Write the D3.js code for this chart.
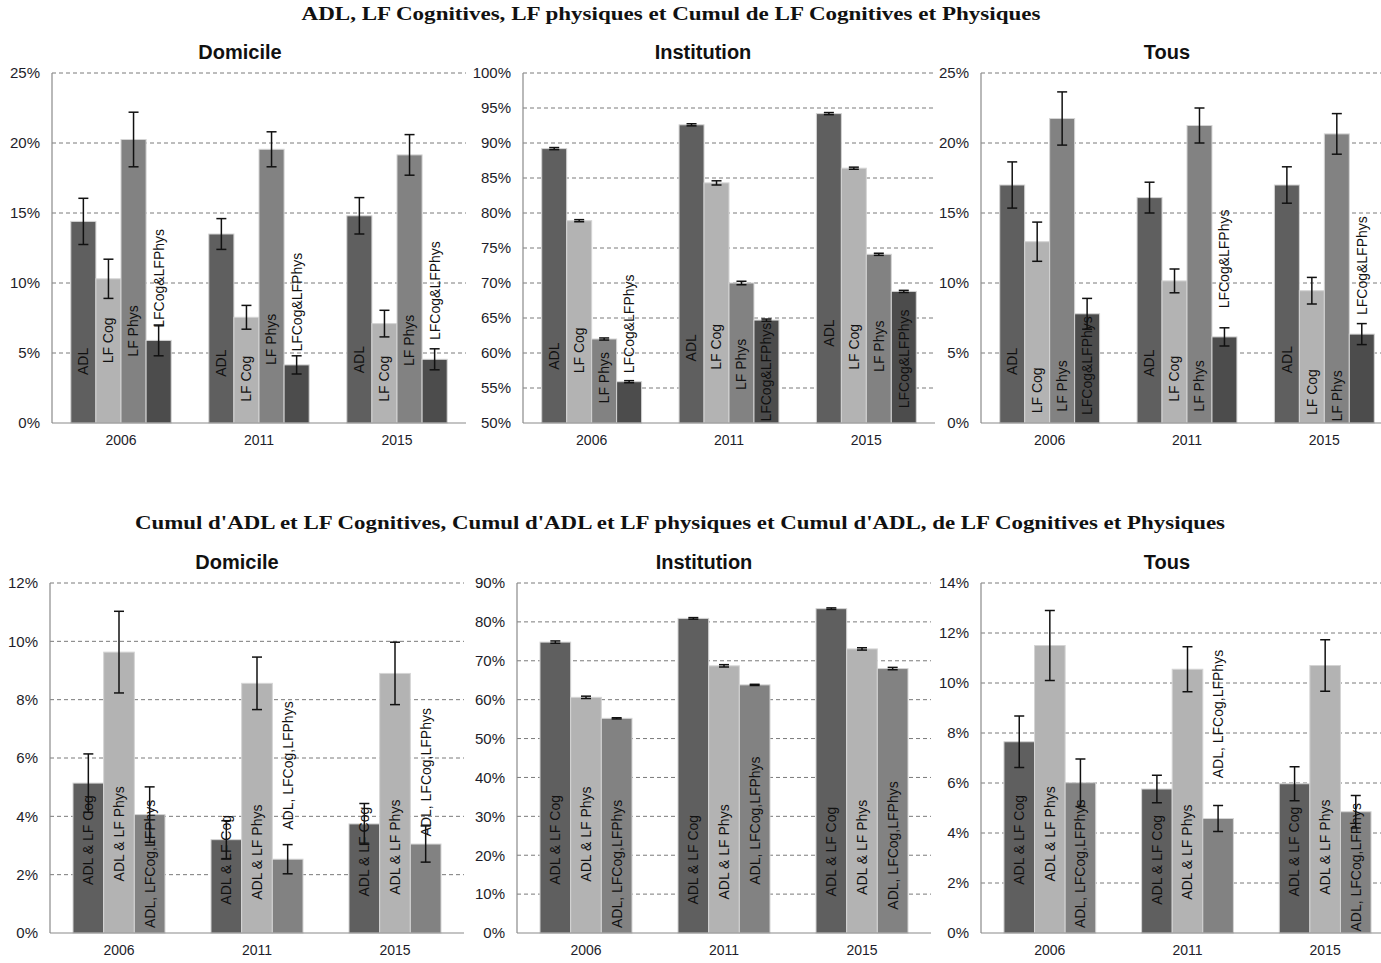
<!DOCTYPE html>
<html>
<head>
<meta charset="utf-8">
<script src="https://cdn.jsdelivr.net/npm/d3@7"></script>
<style>
  html, body { margin: 0; padding: 0; background: #fff; }
  svg { display: block; }
</style>
</head>
<body>
<svg id="chart" width="1381" height="963"></svg>
<script>
// ---------------- DATA ----------------
const years = ["2006", "2011", "2015"];
const seriesTop = ["ADL", "LF Cog", "LF Phys", "LFCog&LFPhys"];
const seriesBottom = ["ADL & LF Cog", "ADL & LF Phys", "ADL, LFCog,LFPhys"];

const titleTop = "ADL, LF Cognitives, LF physiques et Cumul de LF Cognitives et Physiques";
const titleBottom = "Cumul d'ADL et LF Cognitives, Cumul d'ADL et LF physiques et Cumul d'ADL, de LF Cognitives et Physiques";
const panelNames = ["Domicile", "Institution", "Tous"];

const ticksTopDomicile = [0, 5, 10, 15, 20, 25];
const ticksTopInstitution = [50, 55, 60, 65, 70, 75, 80, 85, 90, 95, 100];
const ticksTopTous = [0, 5, 10, 15, 20, 25];
const ticksBottomDomicile = [0, 2, 4, 6, 8, 10, 12];
const ticksBottomInstitution = [0, 10, 20, 30, 40, 50, 60, 70, 80, 90];
const ticksBottomTous = [0, 2, 4, 6, 8, 10, 12, 14];

// values [series][year] in %
const topDomicileValues = [[14.4, 13.5, 14.8], [10.3, 7.55, 7.1], [20.25, 19.55, 19.15], [5.9, 4.15, 4.55]];
const topDomicileErrors = [[1.65, 1.1, 1.3], [1.4, 0.85, 0.95], [1.95, 1.25, 1.45], [1.1, 0.65, 0.75]];
const topInstitutionValues = [[89.2, 92.6, 94.2], [78.9, 84.3, 86.4], [62.0, 70.0, 74.1], [55.9, 64.7, 68.8]];
const topInstitutionErrors = [[0.15, 0.15, 0.15], [0.15, 0.3, 0.15], [0.15, 0.25, 0.15], [0.15, 0.15, 0.15]];
const topTousValues = [[17.0, 16.1, 17.0], [12.95, 10.15, 9.45], [21.75, 21.25, 20.65], [7.8, 6.15, 6.35]];
const topTousErrors = [[1.65, 1.1, 1.3], [1.4, 0.85, 0.95], [1.9, 1.25, 1.45], [1.1, 0.65, 0.75]];

const bottomDomicileValues = [[5.14, 3.2, 3.74], [9.63, 8.56, 8.9], [4.06, 2.53, 3.05]];
const bottomDomicileErrors = [[1.0, 0.65, 0.7], [1.4, 0.9, 1.07], [0.95, 0.5, 0.62]];
const bottomInstitutionValues = [[74.8, 80.9, 83.4], [60.6, 68.7, 73.05], [55.2, 63.8, 68.0]];
const bottomInstitutionErrors = [[0.3, 0.2, 0.2], [0.3, 0.3, 0.3], [0.15, 0.15, 0.3]];
const bottomTousValues = [[7.65, 5.76, 5.97], [11.5, 10.55, 10.7], [6.01, 4.58, 4.85]];
const bottomTousErrors = [[1.03, 0.55, 0.68], [1.4, 0.9, 1.03], [0.95, 0.52, 0.65]];

// ---------------- LAYOUT (label anchors, in axis units) ----------------
const topDomicileLabelAt = [[3.43, 3.3, 3.55], [4.26, 1.52, 1.52], [4.74, 4.14, 4.07], [6.8, 5.1, 5.93]];
const topInstitutionLabelAt = [[57.6, 58.8, 60.9], [57.1, 57.6, 57.6], [52.8, 54.7, 57.3], [57.1, 50.2, 52.1]];
const topTousLabelAt = [[3.43, 3.3, 3.55], [0.69, 1.52, 0.57], [0.81, 0.81, 0.1], [0.57, 8.19, 7.71]];
const bottomDomicileLabelAt = [[1.65, 0.97, 1.25], [1.77, 1.14, 1.31], [0.17, 3.54, 3.31]];
const bottomInstitutionLabelAt = [[12.4, 7.3, 9.4], [13.2, 8.6, 9.8], [1.28, 12.4, 6.0]];
const bottomTousLabelAt = [[1.93, 1.13, 1.46], [2.06, 1.33, 1.53], [0.2, 6.19, 0.06]];

const colorsTop = ["#5f5f5f", "#b3b3b3", "#828282", "#4c4c4c"];
const colorsBottom = ["#5f5f5f", "#b3b3b3", "#828282"];

// ---------------- DRAW ----------------
const svg = d3.select("#chart");
const SANS = "'Liberation Sans', Arial, sans-serif";
const SERIF = "'Liberation Serif', 'DejaVu Serif', serif";

function panel(cfg) {
  const g = svg.append("g");
  const bottom = cfg.y + cfg.h;
  const x0 = d3.scaleBand().domain(years).range([cfg.x, cfg.x + cfg.w]);
  const bw = x0.bandwidth();
  const n = cfg.series.length;
  const barW = bw / (n + 1.5);
  const x1 = d3.scaleBand().domain(d3.range(n)).range([0, barW * n]);
  const off = (bw - barW * n) / 2;
  const y = d3.scaleLinear().domain([cfg.ticks[0], cfg.ticks[cfg.ticks.length - 1]]).range([bottom, cfg.y]);

  // gridlines
  g.append("g").selectAll("line").data(cfg.ticks.slice(1)).join("line")
    .attr("x1", cfg.x).attr("x2", cfg.x + cfg.w)
    .attr("y1", d => y(d)).attr("y2", d => y(d))
    .attr("stroke", "#7a7a7a").attr("stroke-width", 1).attr("stroke-dasharray", "4,3");

  // y axis labels
  const ya = g.append("g").attr("transform", `translate(${cfg.x},0)`)
    .call(d3.axisLeft(y).tickValues(cfg.ticks).tickFormat(d => d + "%").tickSize(0).tickPadding(12));
  ya.select(".domain").remove();
  ya.selectAll("text").attr("font-family", SANS).attr("font-size", 15).attr("fill", "#1d1d2a");

  // x axis labels
  const xa = g.append("g").attr("transform", `translate(0,${bottom})`)
    .call(d3.axisBottom(x0).tickSize(0).tickPadding(12));
  xa.select(".domain").remove();
  xa.selectAll("text").attr("font-family", SANS).attr("font-size", 14).attr("fill", "#1d1d2a");

  // bars
  const rows = [];
  cfg.values.forEach((arr, s) => arr.forEach((v, yi) => rows.push({
    s, year: years[yi], v, e: cfg.errors[s][yi], lab: cfg.labelAt[s][yi]
  })));

  g.append("g").selectAll("rect").data(rows).join("rect")
    .attr("x", d => x0(d.year) + off + x1(d.s))
    .attr("width", x1.bandwidth())
    .attr("y", d => y(d.v))
    .attr("height", d => bottom - y(d.v))
    .attr("fill", d => cfg.colors[d.s])
    .attr("stroke", "#d4d4d4").attr("stroke-width", 1);

  // axis lines
  g.append("line").attr("x1", cfg.x).attr("x2", cfg.x).attr("y1", cfg.y).attr("y2", bottom)
    .attr("stroke", "#8a8a8a").attr("stroke-width", 1.2);
  g.append("line").attr("x1", cfg.x).attr("x2", cfg.x + cfg.w).attr("y1", bottom).attr("y2", bottom)
    .attr("stroke", "#8a8a8a").attr("stroke-width", 1.2);

  // labels
  g.append("g").selectAll("text").data(rows).join("text")
    .attr("transform", d => `translate(${x0(d.year) + off + x1(d.s) + x1.bandwidth() / 2},${y(d.lab)}) rotate(-90)`)
    .attr("dy", "0.35em")
    .attr("text-anchor", "start")
    .attr("font-family", SANS).attr("font-size", 14).attr("fill", "#111")
    .text(d => cfg.series[d.s]);

  // error bars
  const eb = g.append("g").attr("stroke", "#111").attr("stroke-width", 1.5);
  const cap = 5;
  rows.forEach(d => {
    const cx = x0(d.year) + off + x1(d.s) + x1.bandwidth() / 2;
    eb.append("line").attr("x1", cx).attr("x2", cx).attr("y1", y(d.v + d.e)).attr("y2", y(d.v - d.e));
    eb.append("line").attr("x1", cx - cap).attr("x2", cx + cap).attr("y1", y(d.v + d.e)).attr("y2", y(d.v + d.e));
    eb.append("line").attr("x1", cx - cap).attr("x2", cx + cap).attr("y1", y(d.v - d.e)).attr("y2", y(d.v - d.e));
  });

  // panel title
  svg.append("text").attr("x", cfg.titleX).attr("y", cfg.y - 14)
    .attr("text-anchor", "middle").attr("font-family", SANS).attr("font-weight", "bold")
    .attr("font-size", 20).attr("fill", "#111").text(cfg.name);
}

// main titles
svg.append("text").attr("x", 671).attr("y", 20).attr("text-anchor", "middle")
  .attr("font-family", SERIF).attr("font-weight", "bold").attr("font-size", 19)
  .attr("textLength", 739).attr("lengthAdjust", "spacingAndGlyphs").attr("fill", "#111").text(titleTop);
svg.append("text").attr("x", 680).attr("y", 529).attr("text-anchor", "middle")
  .attr("font-family", SERIF).attr("font-weight", "bold").attr("font-size", 19)
  .attr("textLength", 1090).attr("lengthAdjust", "spacingAndGlyphs").attr("fill", "#111").text(titleBottom);

const topY = 73, topH = 350, botY = 583, botH = 350;
panel({ name: panelNames[0], x: 52, w: 414, y: topY, h: topH, titleX: 240, ticks: ticksTopDomicile,
  series: seriesTop, colors: colorsTop, values: topDomicileValues, errors: topDomicileErrors, labelAt: topDomicileLabelAt });
panel({ name: panelNames[1], x: 523, w: 412, y: topY, h: topH, titleX: 703, ticks: ticksTopInstitution,
  series: seriesTop, colors: colorsTop, values: topInstitutionValues, errors: topInstitutionErrors, labelAt: topInstitutionLabelAt });
panel({ name: panelNames[2], x: 981, w: 412, y: topY, h: topH, titleX: 1167, ticks: ticksTopTous,
  series: seriesTop, colors: colorsTop, values: topTousValues, errors: topTousErrors, labelAt: topTousLabelAt });
panel({ name: panelNames[0], x: 50, w: 414, y: botY, h: botH, titleX: 237, ticks: ticksBottomDomicile,
  series: seriesBottom, colors: colorsBottom, values: bottomDomicileValues, errors: bottomDomicileErrors, labelAt: bottomDomicileLabelAt });
panel({ name: panelNames[1], x: 517, w: 414, y: botY, h: botH, titleX: 704, ticks: ticksBottomInstitution,
  series: seriesBottom, colors: colorsBottom, values: bottomInstitutionValues, errors: bottomInstitutionErrors, labelAt: bottomInstitutionLabelAt });
panel({ name: panelNames[2], x: 981, w: 413, y: botY, h: botH, titleX: 1167, ticks: ticksBottomTous,
  series: seriesBottom, colors: colorsBottom, values: bottomTousValues, errors: bottomTousErrors, labelAt: bottomTousLabelAt });
</script>
</body>
</html>
